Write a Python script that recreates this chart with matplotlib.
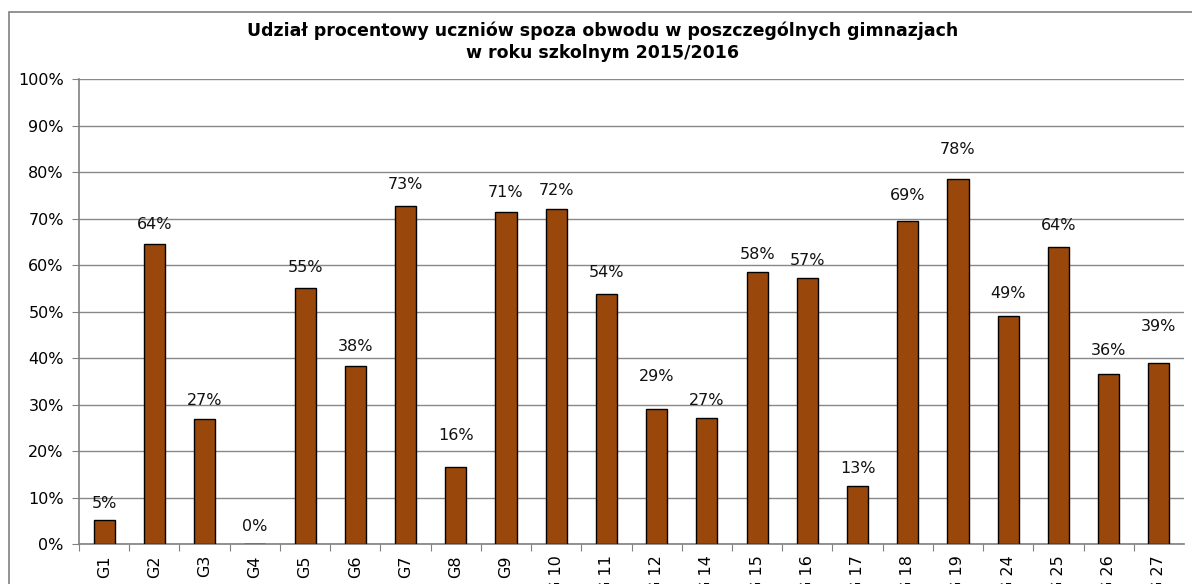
import matplotlib.pyplot as plt
from matplotlib.patches import Rectangle
from matplotlib.ticker import MultipleLocator, PercentFormatter

plt.rcParams['font.family'] = ['DejaVu Sans']

# dane
szkoly = ['G1', 'G2', 'G3', 'G4', 'G5', 'G6', 'G7', 'G8', 'G9', 'G 10', 'G 11',
          'G 12', 'G 14', 'G 15', 'G 16', 'G 17', 'G 18', 'G 19', 'G 24', 'G 25',
          'G 26', 'G 27']
udzial = [5.2, 64.5, 26.8, 0.0, 55.0, 38.3, 72.7, 16.5, 71.5, 72.0, 53.8,
          29.0, 27.1, 58.5, 57.2, 12.5, 69.5, 78.5, 49.1, 63.9, 36.6, 38.9]
etykiety = ['5%', '64%', '27%', '0%', '55%', '38%', '73%', '16%', '71%', '72%', '54%',
            '29%', '27%', '58%', '57%', '13%', '69%', '78%', '49%', '64%', '36%', '39%']

# odstep etykiety od slupka (piksele) - etykiety w oryginale ustawione recznie
odstep = [9, 12, 11, 10, 13, 12, 14, 24, 12, 11, 14, 25, 10, 10, 10, 10, 18, 22, 15, 14, 16, 29]

fig = plt.figure(figsize=(11.92, 5.84), dpi=100)
ax = fig.add_axes([0.0663, 0.0685, 0.927, 0.796])

# ramka wykresu
fig.patches.append(Rectangle((9 / 1192, -0.1), 1.2, 1 - 12 / 584 + 0.1,
                             transform=fig.transFigure, fill=False,
                             edgecolor='#808080', linewidth=1.2))

x = range(len(szkoly))
ax.bar(x, udzial, width=0.42, color='#99470A', edgecolor='black', linewidth=1, zorder=3)
for xi, v, t, d in zip(x, udzial, etykiety, odstep):
    ax.annotate(t, (xi, v), xytext=(0, d * 0.72), textcoords='offset points',
                ha='center', va='bottom', fontsize=11.5, color='#111111')

ax.set_xlim(-0.5, len(szkoly) - 0.5)
ax.set_ylim(0, 100)
ax.yaxis.set_major_locator(MultipleLocator(10))
ax.yaxis.set_major_formatter(PercentFormatter(decimals=0))
ax.grid(axis='y', color='#888888', linewidth=1, zorder=0)

ax.set_xticks([i + 0.5 for i in x[:-1]] + [-0.5], minor=False)
ax.set_xticklabels([])
ax.set_xticks(list(x), minor=True)
ax.set_xticklabels(szkoly, minor=True, rotation=90, fontsize=11.5)
ax.tick_params(axis='x', which='major', length=5, color='#808080')
ax.tick_params(axis='x', which='minor', length=0, pad=8)
ax.tick_params(axis='y', length=5, color='#808080', labelsize=11.5, pad=6)

for s in ['top', 'right']:
    ax.spines[s].set_visible(False)
for s in ['left', 'bottom']:
    ax.spines[s].set_color('#808080')
    ax.spines[s].set_linewidth(1.2)

fig.text(603 / 1192, 1 - 42 / 584, 'Udział procentowy uczniów spoza obwodu w poszczególnych gimnazjach\nw roku szkolnym 2015/2016',
         ha='center', va='center', fontsize=12.5, fontweight='bold', linespacing=1.25)

fig.savefig('out.png', dpi=100)
